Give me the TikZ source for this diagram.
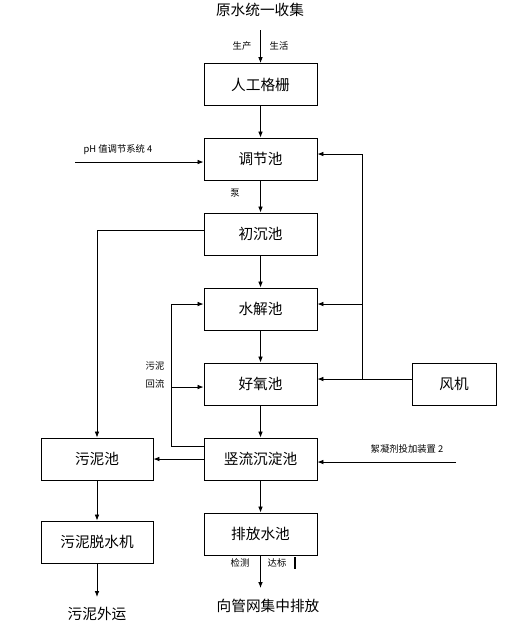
\documentclass[tikz,border=0pt]{standalone}
\usepackage{fontspec}
\setmainfont{Noto Sans CJK SC}
\usetikzlibrary{positioning, arrows.meta}

\begin{document}
\begin{tikzpicture}[x=0.75pt, y=-0.75pt,
      box/.style={draw, line width=0.65pt, minimum width=84.75pt, minimum height=31.5pt, align=center, font=\fontsize{11}{13}\selectfont},
      big/.style={font=\fontsize{11}{13}\selectfont},
      lbl/.style={font=\fontsize{7}{8}\selectfont, inner sep=1pt},
      arr/.style={line width=0.6pt, -{Latex[length=4.5pt,width=3.5pt]}},
      ln/.style={line width=0.6pt}]
      \useasboundingbox (0,0) rectangle (517,640);
      % main line
      \node[big] (src) at (260,10) {原水统一收集};
      \node[box] (gs) at (260.5,84.5) {人工格栅};
      \node[box] (tj) at (260.5,159) {调节池};
      \node[box] (cc) at (260.5,234) {初沉池};
      \node[box] (sj) at (260.5,309) {水解池};
      \node[box] (hy) at (260.5,384) {好氧池};
      \node[box] (sl) at (260.5,459) {竖流沉淀池};
      \node[box] (pf) at (260.5,534) {排放水池};
      \node[big] (out) at (268,606) {向管网集中排放};
      % sludge line
      \node[box, minimum width=84pt] (wn) at (97,459) {污泥池};
      \node[box, minimum width=84pt] (ts) at (97,542) {污泥脱水机};
      \node[big] (wy) at (97,614) {污泥外运};
      \node[box, minimum width=63pt] (fj) at (454,384) {风机};
      % labels
      \node[lbl] at (242,46) {生产};
      \node[lbl] at (279,46) {生活};
      \node[lbl] at (118,150) {pH 值调节系统 4};
      \node[lbl] at (235,193) {泵};
      \node[lbl] at (155,366) {污泥};
      \node[lbl] at (155,384) {回流};
      \node[lbl] at (407,449) {絮凝剂投加装置 2};
      \node[lbl] at (240,563) {检测};
      \node[lbl] at (277,563) {达标};
      \draw[line width=1.4pt] (295,557) -- (295,569);
      % coordinates
      \coordinate (a0) at (260.5,30);
      \coordinate (ph) at (75,162);
      \coordinate (fk) at (362,379);
      \coordinate (fm) at (362,304);
      \coordinate (ft) at (362,154);
      \coordinate (hl) at (171,446);
      \coordinate (hm) at (171,387);
      \coordinate (ht) at (171,304);
      \coordinate (cl) at (97,230);
      \coordinate (xn) at (456,462);
      \coordinate (pd) at (260.5,588);
      \coordinate (wd) at (97,597);
      % connectors
      \draw[arr](a0)--(gs);\draw[arr](gs)--(tj);\draw[arr](tj)--(cc);\draw[arr](cc)--(sj);
      \draw[arr](sj)--(hy);\draw[arr](hy)--(sl);\draw[arr](sl)--(pf);\draw[arr](pf)--(pd);
      \draw[arr](ph)--(ph -| tj.west);
      \draw[arr](fj.west |- fk)--(fk -| hy.east);
      \draw[arr](fk)--(ft)--(ft -| tj.east);
      \draw[arr](fm)--(fm -| sj.east);
      \draw[arr](sl.west |- hl)--(hl)--(ht)--(ht -| sj.west);
      \draw[arr](hm)--(hm -| hy.west);
      \draw[arr](cc.west |- cl)--(cl)--(wn);
      \draw[arr](sl.west)--(wn.east);
      \draw[arr](xn)--(xn -| sl.east);
      \draw[arr](wn)--(ts);\draw[arr](ts)--(wd);
    \end{tikzpicture}
\end{document}
